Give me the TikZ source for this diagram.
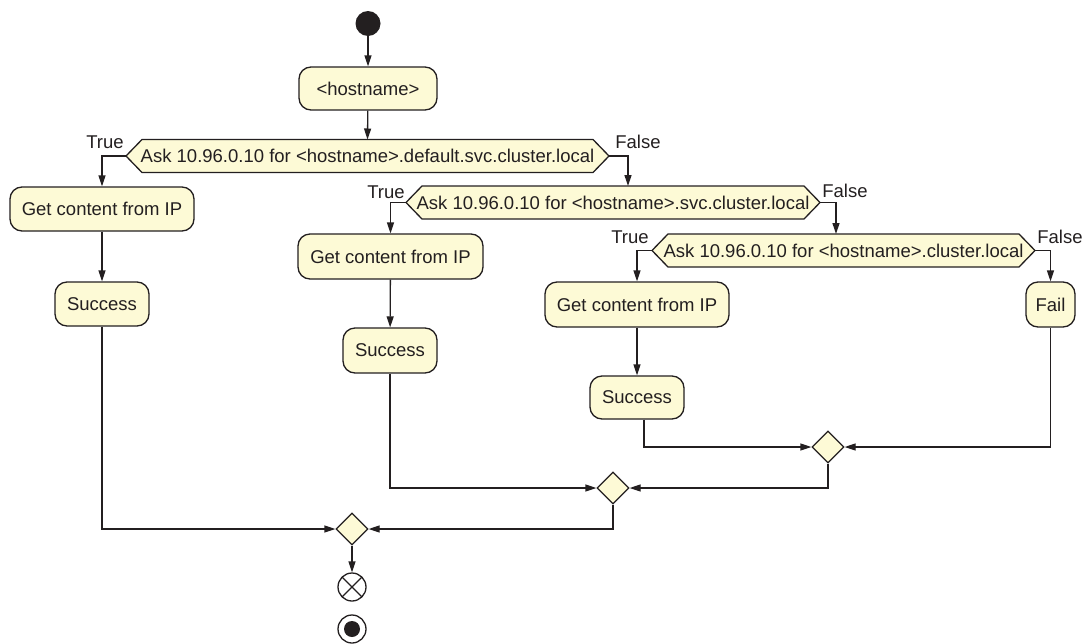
\documentclass[tikz,border=0pt]{standalone}
\usepackage{fontspec}
\setmainfont{Liberation Sans}
\usetikzlibrary{arrows.meta,calc,shapes.geometric}
\pgfdeclarelayer{background}
\pgfsetlayers{background,main}
\definecolor{boxfill}{RGB}{253,250,214}
\definecolor{ink}{RGB}{35,31,32}
\newcommand\hexpath[2]{%
  \begin{pgfonlayer}{background}
    \path[hexshape] ($(#1)+(-#2,0)$) -- ($(#1)+(-#2+16,-16.5)$) -- ($(#1)+(#2-16,-16.5)$) -- ($(#1)+(#2,0)$) -- ($(#1)+(#2-16,16.5)$) -- ($(#1)+(-#2+16,16.5)$) -- cycle;
  \end{pgfonlayer}
  \coordinate (#1w) at ($(#1)+(-#2,0)$);
  \coordinate (#1e) at ($(#1)+(#2,0)$);
  \coordinate (#1n) at ($(#1)+(0,-16.5)$);
}
\begin{document}
\begin{tikzpicture}[x=1pt,y=-1pt,
  every node/.style={font=\fontsize{18.5}{22}\selectfont, text=ink},
  line/.style={draw=ink, line width=1.3pt},
  arr/.style={line, -{Triangle[length=11pt,width=7pt]}},
  actbox/.style={draw=ink, line width=1.3pt, fill=boxfill, rounded corners=12pt, inner sep=0pt},
  hexbox/.style={inner sep=0pt, minimum height=33pt},
  hexshape/.style={draw=ink, line width=1.3pt, fill=boxfill, line join=miter},
  merge/.style={diamond, draw=ink, line width=1.3pt, fill=boxfill, minimum width=32pt, minimum height=32pt, inner sep=0pt},
  lbl/.style={inner sep=0pt}
]
\useasboundingbox (0,0) rectangle (1085,643);

% start
\node[circle, fill=ink, minimum size=25pt, inner sep=0pt] (start) at (368,23.5) {};
\node[actbox, minimum width=138pt, minimum height=43pt] (host) at (368,88.5) {<hostname>};

% decisions
\node[hexbox] (q1) at (367.5,156) {Ask 10.96.0.10 for <hostname>.default.svc.cluster.local};
\hexpath{q1}{241.5}
\node[hexbox] (q2) at (613,202.5) {Ask 10.96.0.10 for <hostname>.svc.cluster.local};
\hexpath{q2}{207}
\node[hexbox] (q3) at (843.5,250.5) {Ask 10.96.0.10 for <hostname>.cluster.local};
\hexpath{q3}{191.5}

% labels
\node[lbl] (t1) at (105,142) {True};
\node[lbl] (f1) at (638,142) {False};
\node[lbl] (t2) at (386,192) {True};
\node[lbl] (f2) at (845,191) {False};
\node[lbl] (t3) at (630,237) {True};
\node[lbl] (f3) at (1060,237) {False};

% actions
\node[actbox, minimum width=184pt, minimum height=44pt] (g1) at (102,209) {Get content from IP};
\node[actbox, minimum width=94pt, minimum height=44pt] (s1) at (102,304) {Success};
\node[actbox, minimum width=185pt, minimum height=45pt] (g2) at (390.5,256.5) {Get content from IP};
\node[actbox, minimum width=94pt, minimum height=45pt] (s2) at (390,350.5) {Success};
\node[actbox, minimum width=184pt, minimum height=45pt] (g3) at (637,304.5) {Get content from IP};
\node[actbox, minimum width=94pt, minimum height=43pt] (s3) at (637,397.5) {Success};
\node[actbox, minimum width=49pt, minimum height=45pt] (fail) at (1050.5,304.5) {Fail};

% merges
\node[merge] (d3) at (828,447) {};
\node[merge] (d2) at (613,488) {};
\node[merge] (d1) at (352,529) {};

% ends
\node[circle, draw=ink, line width=1.3pt, fill=white, minimum size=28pt, inner sep=0pt] (ff) at (352,587) {};
\draw[line] ($(ff)+(-9.9,-9.9)$) -- ($(ff)+(9.9,9.9)$);
\draw[line] ($(ff)+(-9.9,9.9)$) -- ($(ff)+(9.9,-9.9)$);
\node[circle, draw=ink, line width=1.3pt, minimum size=28pt, inner sep=0pt] (fin) at (352,629) {};
\fill[ink] (fin.center) circle (8);

% connectors
\draw[arr] (start) -- (host);
\draw[arr] (host) -- (q1n);
\draw[arr] (q1w) -| (g1.north);
\draw[arr] (q1e) -| ($(q2n)+(15,0)$);
\draw[arr] (q2w) -| (g2.north);
\draw[arr] (q2e) -| ($(q3n)+(-7.5,0)$);
\draw[arr] (q3w) -| (g3.north);
\draw[arr] (q3e) -| (fail.north);
\draw[arr] (g1) -- (s1);
\draw[arr] (g2) -- (s2);
\draw[arr] (g3) -- (s3);
\draw[arr] (s1.south) |- (d1.west);
\draw[arr] (s2.south) |- (d2.west);
\draw[arr] ([xshift=7pt]s3.south) |- (d3.west);
\draw[arr] (fail.south) |- (d3.east);
\draw[arr] (d3.south) |- (d2.east);
\draw[arr] (d2.south) |- (d1.east);
\draw[arr] (d1) -- (ff);
\end{tikzpicture}
\end{document}
